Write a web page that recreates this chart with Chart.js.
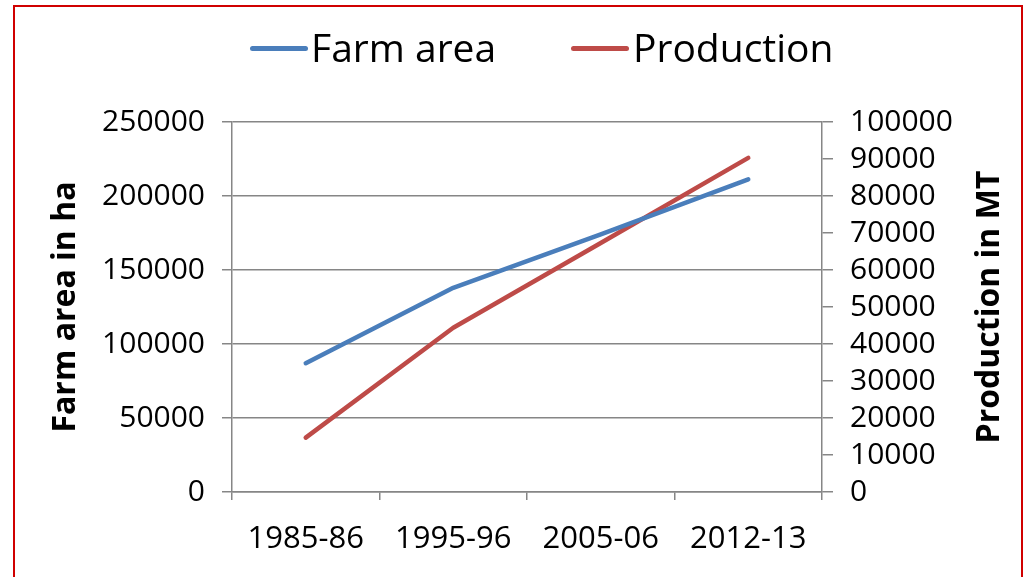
<!DOCTYPE html>
<html>
<head>
<meta charset="utf-8">
<title>Farm area and production</title>
<script src="https://cdn.jsdelivr.net/npm/chart.js@4"></script>
<style>
  html, body { margin: 0; padding: 0; background: #ffffff; }
  body { width: 1025px; height: 577px; overflow: hidden; position: relative; }
  #frame {
    position: absolute; left: 13px; top: 5px; width: 1010px; height: 600px;
    border: 2px solid #d00000; box-sizing: border-box; pointer-events: none;
  }
  #wrap { position: absolute; left: 0; top: 0; width: 1025px; height: 577px; }
  #legend { position: absolute; left: 0; top: 0; width: 1025px; height: 100px; }
  .swatch { position: absolute; height: 5px; width: 58px; border-radius: 2.5px; }
  .legtext {
    position: absolute; font-family: 'Open Sans', 'Liberation Sans', sans-serif;
    font-size: 39px; line-height: 40px; color: #000000; white-space: nowrap;
  }
</style>
</head>
<body>
<div id="wrap"><canvas id="chart" width="1025" height="577"></canvas></div>
<div id="legend"></div>
<div id="frame"></div>
<script>
// Years of the survey
const categories = ['1985-86', '1995-96', '2005-06', '2012-13'];
// Farm area (ha), left axis
const farmArea = [87000, 138000, 174000, 211300];
// Production (MT), right axis
const production = [14700, 44400, 67300, 90300];

const seriesNames = ['Farm area', 'Production'];
const seriesColors = ['#4A7EBB', '#BE4B48'];
const leftAxisTitle = 'Farm area in ha';
const rightAxisTitle = 'Production in MT';

const FONT = "'Open Sans', 'Liberation Sans', sans-serif";
const GRID = '#868686';

// Right-hand axis title, read bottom-to-top like the left one
const rightTitlePlugin = {
  id: 'rightTitle',
  afterDraw(chart) {
    const s = chart.scales.y1;
    const ctx = chart.ctx;
    ctx.save();
    ctx.translate(990, (s.top + s.bottom) / 2);
    ctx.rotate(-Math.PI / 2);
    ctx.font = "bold 32px " + FONT;
    ctx.fillStyle = '#000000';
    ctx.textAlign = 'center';
    ctx.textBaseline = 'middle';
    ctx.fillText(rightAxisTitle, 0, 0);
    ctx.restore();
  }
};

// Legend built from the chart's own datasets
const htmlLegendPlugin = {
  id: 'htmlLegend',
  afterUpdate(chart) {
    const box = document.getElementById('legend');
    box.innerHTML = '';
    const slots = [{ sw: 250, tx: 311 }, { sw: 571, tx: 633 }];
    chart.data.datasets.forEach((ds, i) => {
      const sw = document.createElement('div');
      sw.className = 'swatch';
      sw.style.left = slots[i].sw + 'px';
      sw.style.top = '46px';
      sw.style.background = ds.borderColor;
      const tx = document.createElement('div');
      tx.className = 'legtext';
      tx.style.left = slots[i].tx + 'px';
      tx.style.top = '27px';
      tx.textContent = ds.label;
      box.appendChild(sw);
      box.appendChild(tx);
    });
  }
};

const plainNumber = (value) => String(value);

new Chart(document.getElementById('chart'), {
  type: 'line',
  data: {
    labels: categories,
    datasets: [
      {
        label: seriesNames[0],
        data: farmArea,
        yAxisID: 'y',
        borderColor: seriesColors[0],
        backgroundColor: seriesColors[0],
        borderWidth: 4.5,
        pointRadius: 0,
        tension: 0,
        borderCapStyle: 'round',
        borderJoinStyle: 'round'
      },
      {
        label: seriesNames[1],
        data: production,
        yAxisID: 'y1',
        borderColor: seriesColors[1],
        backgroundColor: seriesColors[1],
        borderWidth: 4.5,
        pointRadius: 0,
        tension: 0,
        borderCapStyle: 'round',
        borderJoinStyle: 'round'
      }
    ]
  },
  options: {
    responsive: false,
    animation: false,
    devicePixelRatio: 1,
    layout: { padding: { top: 122, left: 0, right: 0, bottom: 0 } },
    plugins: {
      tooltip: { enabled: false },
      legend: { display: false }
    },
    scales: {
      x: {
        type: 'category',
        offset: true,
        grid: {
          offset: true,
          drawOnChartArea: false,
          drawTicks: true,
          tickLength: 8,
          color: GRID,
          lineWidth: 1.5
        },
        border: { display: true, color: GRID, width: 1.5 },
        ticks: {
          font: { family: FONT, size: 31 },
          color: '#000000',
          padding: 21,
          maxRotation: 0,
          autoSkip: false
        },
        afterFit(scale) { scale.height = 85; }
      },
      y: {
        position: 'left',
        min: 0,
        max: 250000,
        ticks: {
          stepSize: 50000,
          font: { family: FONT, size: 30 },
          color: '#000000',
          padding: 17,
          autoSkip: false,
          callback: plainNumber
        },
        grid: {
          color: GRID,
          lineWidth: 1.5,
          tickLength: 10
        },
        border: { display: true, color: GRID, width: 1.5 },
        title: {
          display: true,
          text: leftAxisTitle,
          font: { family: FONT, size: 32, weight: 'bold' },
          color: '#000000',
          padding: { top: 47, bottom: 0 }
        },
        afterFit(scale) { scale.width = 232; }
      },
      y1: {
        position: 'right',
        min: 0,
        max: 100000,
        ticks: {
          stepSize: 10000,
          font: { family: FONT, size: 30 },
          color: '#000000',
          padding: 17,
          autoSkip: false,
          callback: plainNumber
        },
        grid: {
          drawOnChartArea: false,
          color: GRID,
          lineWidth: 1.5,
          tickLength: 11
        },
        border: { display: true, color: GRID, width: 1.5 },
        afterFit(scale) { scale.width = 203; }
      }
    }
  },
  plugins: [rightTitlePlugin, htmlLegendPlugin]
});
</script>
</body>
</html>
